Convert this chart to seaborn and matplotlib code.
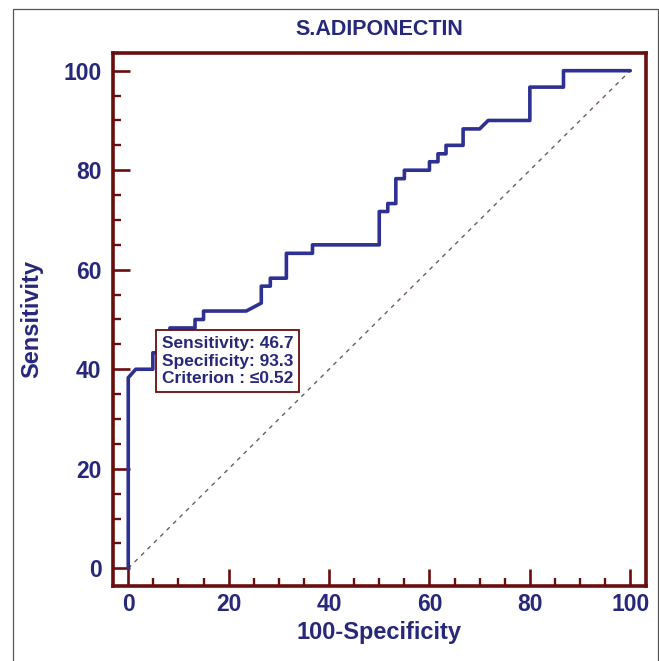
import matplotlib
matplotlib.use("Agg")
import matplotlib.pyplot as plt
from matplotlib.patches import Rectangle
from matplotlib.ticker import MultipleLocator
import seaborn as sns
import pandas as pd

# ---- data ----
fpr = [0, 0, 1.5, 4.9, 4.9, 6.7, 6.7, 8.3, 8.3, 13.3, 13.3, 15, 15, 23.5, 26.5,
       26.5, 28.3, 28.3, 31.5, 31.5, 36.7, 36.7, 50, 50, 51.7, 51.7, 53.3, 53.3,
       55, 55, 60, 60, 61.7, 61.7, 63.3, 63.3, 66.7, 66.7, 70, 71.7, 80, 80,
       86.7, 86.7, 100]
tpr = [0, 38.3, 40, 40, 43.3, 43.3, 46.7, 46.7, 48.3, 48.3, 50, 50, 51.7, 51.7, 53.3,
       56.7, 56.7, 58.3, 58.3, 63.3, 63.3, 65, 65, 71.7, 71.7, 73.3, 73.3, 78.3,
       78.3, 80, 80, 81.7, 81.7, 83.3, 83.3, 85, 85, 88.3, 88.3, 90, 90, 96.7,
       96.7, 100, 100]
ref_x = [0, 100]
ref_y = [0, 100]
title = "S.ADIPONECTIN"
xlabel = "100-Specificity"
ylabel = "Sensitivity"
ticks = [0, 20, 40, 60, 80, 100]
crit_point = (6.7, 46.7)
crit_lines = ["Sensitivity: 46.7", "Specificity: 93.3", "Criterion : \u22640.52"]

NAVY = "#27287a"
BLUE = "#2e3192"
MAROON = "#6a0d0d"

sns.set_theme(style="white")
plt.rcParams["font.family"] = ["Liberation Sans", "DejaVu Sans"]

fig = plt.figure(figsize=(6.59, 6.61), dpi=100)
ax = fig.add_axes([0.171, 0.1139, 0.809, 0.8055])

roc = pd.DataFrame({"fpr": fpr, "tpr": tpr})
diag = pd.DataFrame({"x": ref_x, "y": ref_y})

sns.lineplot(data=diag, x="x", y="y", ax=ax, color="#6e5c5c", lw=1.0,
             linestyle=(0, (3, 3.5)), sort=False, estimator=None)
sns.lineplot(data=roc, x="fpr", y="tpr", ax=ax, color=BLUE, lw=2.6,
             sort=False, estimator=None, zorder=3)

ax.set_xlim(-3.1, 103.1)
ax.set_ylim(-3.5, 103.5)
ax.set_xticks(ticks)
ax.set_yticks(ticks)
ax.xaxis.set_minor_locator(MultipleLocator(5))
ax.yaxis.set_minor_locator(MultipleLocator(5))
ax.tick_params(which="major", direction="in", length=12, width=1.9,
               color=MAROON, labelsize=16.5, labelcolor=NAVY, pad=8,
               bottom=True, left=True)
ax.tick_params(axis="x", which="major", pad=5)
ax.tick_params(which="minor", direction="in", length=6, width=1.7,
               color=MAROON, bottom=True, left=True)
for lab in ax.get_xticklabels() + ax.get_yticklabels():
    lab.set_fontweight("bold")

for s in ax.spines.values():
    s.set_color(MAROON)
    s.set_linewidth(2.6)
    s.set_visible(True)

ax.set_title(title, fontsize=15.5, fontweight="bold", color=NAVY, pad=13)
ax.set_xlabel(xlabel, fontsize=17, fontweight="bold", color=NAVY)
ax.set_ylabel(ylabel, fontsize=17, fontweight="bold", color=NAVY)
ax.xaxis.set_label_coords(0.5, -0.066)
ax.yaxis.set_label_coords(-0.13, 0.5)

ax.text(crit_point[0], crit_point[1], "\n".join(crit_lines),
        fontsize=12.5, fontweight="bold", color=NAVY, ha="left", va="top",
        linespacing=1.22, zorder=5,
        bbox=dict(boxstyle="square,pad=0.35", fc="white", ec=MAROON, lw=1.3))

fig.patches.append(Rectangle((0.0197, -0.05), 0.979, 1.0364, transform=fig.transFigure,
                             fill=False, ec="#555555", lw=0.9))

fig.savefig("out.png", dpi=100)
